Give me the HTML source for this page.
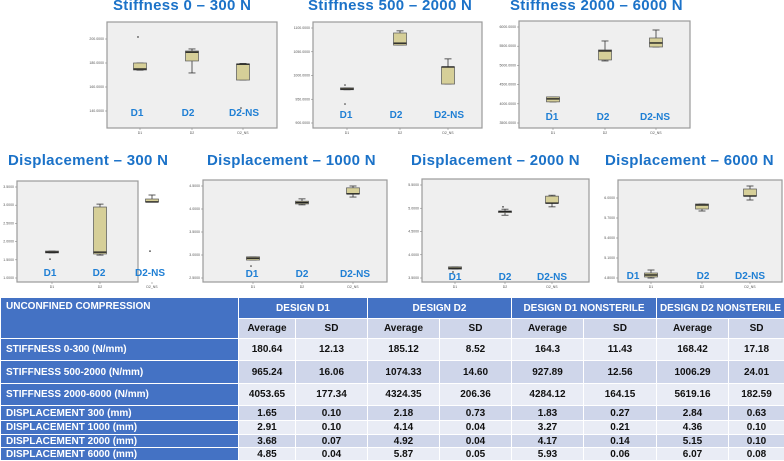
<!DOCTYPE html>
<html><head><meta charset="utf-8">
<style>
body{margin:0;width:784px;height:460px;background:#fff;position:relative;overflow:hidden;font-family:"Liberation Sans",sans-serif;}
.t{position:absolute;font-weight:bold;color:#1b72c8;font-size:15px;white-space:nowrap;letter-spacing:0.3px;}
svg{position:absolute;left:0;top:0;}
table{position:absolute;left:0;top:297px;width:784px;border-collapse:collapse;table-layout:fixed;font-size:10px;font-weight:bold;}
td{border:1px solid #fff;padding:0;text-align:center;color:#111;}
td.l{background:#4472c4;color:#fff;text-align:left;padding-left:5px;}
th{background:#4472c4;color:#fff;border:1px solid #fff;font-size:10px;}
tr.a td:not(.l){background:#e9ecf5;}
tr.b td:not(.l){background:#cfd6ea;}
</style></head><body>
<div class="t" style="left:113px;top:-3px">Stiffness 0 – 300 N</div>
<div class="t" style="left:308px;top:-3px">Stiffness 500 – 2000 N</div>
<div class="t" style="left:510px;top:-3px">Stiffness 2000 – 6000 N</div>
<div class="t" style="left:8px;top:152px">Displacement – 300 N</div>
<div class="t" style="left:207px;top:152px">Displacement – 1000 N</div>
<div class="t" style="left:411px;top:152px">Displacement – 2000 N</div>
<div class="t" style="left:605px;top:152px">Displacement – 6000 N</div>
<svg id="s" width="784" height="297"></svg>

<table>
<colgroup><col style="width:238px"><col style="width:57px"><col style="width:72px"><col style="width:72px"><col style="width:72px"><col style="width:72px"><col style="width:73px"><col style="width:72px"><col style="width:56px"></colgroup>
<tr style="height:21px"><th style="text-align:left;padding-left:5px;padding-top:3px;vertical-align:top" rowspan="2">UNCONFINED COMPRESSION</th><th colspan="2">DESIGN D1</th><th colspan="2">DESIGN D2</th><th colspan="2">DESIGN D1 NONSTERILE</th><th colspan="2">DESIGN D2 NONSTERILE</th></tr>
<tr class="b" style="height:20px"><td>Average</td><td>SD</td><td>Average</td><td>SD</td><td>Average</td><td>SD</td><td>Average</td><td>SD</td></tr>
<tr class="a" style="height:22px"><td class="l">STIFFNESS 0-300 (N/mm)</td><td>180.64</td><td>12.13</td><td>185.12</td><td>8.52</td><td>164.3</td><td>11.43</td><td>168.42</td><td>17.18</td></tr>
<tr class="b" style="height:23px"><td class="l">STIFFNESS 500-2000 (N/mm)</td><td>965.24</td><td>16.06</td><td>1074.33</td><td>14.60</td><td>927.89</td><td>12.56</td><td>1006.29</td><td>24.01</td></tr>
<tr class="a" style="height:22px"><td class="l">STIFFNESS 2000-6000 (N/mm)</td><td>4053.65</td><td>177.34</td><td>4324.35</td><td>206.36</td><td>4284.12</td><td>164.15</td><td>5619.16</td><td>182.59</td></tr>
<tr class="b" style="height:15px"><td class="l">DISPLACEMENT 300 (mm)</td><td>1.65</td><td>0.10</td><td>2.18</td><td>0.73</td><td>1.83</td><td>0.27</td><td>2.84</td><td>0.63</td></tr>
<tr class="a" style="height:14px"><td class="l">DISPLACEMENT 1000 (mm)</td><td>2.91</td><td>0.10</td><td>4.14</td><td>0.04</td><td>3.27</td><td>0.21</td><td>4.36</td><td>0.10</td></tr>
<tr class="b" style="height:13px"><td class="l">DISPLACEMENT 2000 (mm)</td><td>3.68</td><td>0.07</td><td>4.92</td><td>0.04</td><td>4.17</td><td>0.14</td><td>5.15</td><td>0.10</td></tr>
<tr class="a" style="height:13px"><td class="l">DISPLACEMENT 6000 (mm)</td><td>4.85</td><td>0.04</td><td>5.87</td><td>0.05</td><td>5.93</td><td>0.06</td><td>6.07</td><td>0.08</td></tr>
</table>

<script>
// data (one entry per panel, each with 3 groups)
const categories = ["D1","D2","D2_NS"];
const groupLabels = ["D1","D2","D2-NS"];
const tickValues = [[200,180,160,140],[1100,1050,1000,950,900],[6000,5500,5000,4500,4000,3500],[3.5,3.0,2.5,2.0,1.5,1.0],[4.5,4.0,3.5,3.0,2.5],[5.5,5.0,4.5,4.0,3.5],[6.0,5.7,5.4,5.1,4.8]];
const whiskerLow = [[174,171.7,165.8],[970,1064,982],[4050,5116,5480],[1.69,1.63,3.09],[2.89,4.09,4.26],[3.69,4.85,5.03],[4.8,5.805,5.97]];
const q1 = [[174.2,181.7,165.8],[970,1064,982],[4050,5142,5480],[1.69,1.66,3.09],[2.89,4.11,4.33],[3.69,4.92,5.11],[4.815,5.835,6.03]];
const median = [[175,189,179],[971.6,1068,1018],[4128,5376,5584],[1.71,1.71,3.09],[2.93,4.14,4.33],[3.71,4.93,5.11],[4.845,5.895,6.03]];
const q3 = [[180,190,179.2],[974,1089.5,1018],[4180,5402,5714],[1.74,2.95,3.17],[2.96,4.17,4.46],[3.74,4.94,5.26],[4.875,5.91,6.135]];
const whiskerHigh = [[180,191.7,179.6],[974,1094,1035],[4180,5636,5922],[1.74,3.03,3.28],[2.96,4.22,4.5],[3.74,4.98,5.28],[4.92,5.91,6.18]];
const outliers = [[[201.7],[],[142.5]],[[980,940],[],[]],[[3816],[],[]],[[1.52],[],[1.74]],[[2.76],[],[]],[[3.63],[5.03],[]],[[],[],[]]];

// layout (pixels)
const panels = [
 {x0:107,x1:277,y0:22,y1:128,t0:39,t1:111,cx:[140,192,243],lx:[137,188,244],ly:116},
 {x0:313,x1:482,y0:22,y1:128,t0:28,t1:123,cx:[347,400,448],lx:[346,396,449],ly:118},
 {x0:519,x1:690,y0:21,y1:128,t0:27,t1:123,cx:[553,605,656],lx:[552,603,655],ly:120},
 {x0:17,x1:138,y0:181,y1:282,t0:187,t1:278,cx:[52,100,152],lx:[50,99,150],ly:276},
 {x0:203,x1:387,y0:180,y1:282,t0:186,t1:278,cx:[253,302,353],lx:[252,302,355],ly:277},
 {x0:422,x1:589,y0:179,y1:282,t0:185,t1:278,cx:[455,505,552],lx:[455,505,552],ly:280},
 {x0:618,x1:782,y0:180,y1:282,t0:198,t1:278,cx:[651,702,750],lx:[633,703,750],ly:279}
];
const NS="http://www.w3.org/2000/svg";
const svg=document.getElementById('s');
function mk(tag,attrs,parent){const e=document.createElementNS(NS,tag);for(const k in attrs)e.setAttribute(k,attrs[k]);(parent||svg).appendChild(e);return e;}
panels.forEach((p,pi)=>{
  const ticks=tickValues[pi];
  const vTop=ticks[0], vBot=ticks[ticks.length-1];
  const y=v=>p.t0+(vTop-v)/(vTop-vBot)*(p.t1-p.t0);
  const g=mk('g',{});
  
  
  const r=mk('rect',{x:p.x0,y:p.y0,width:p.x1-p.x0,height:p.y1-p.y0,fill:'#efefef',stroke:'#9a9a9a','stroke-width':1.2},g);
  
  
  ticks.forEach(tv=>{
    const yy=y(tv);
    mk('line',{x1:p.x0-2,x2:p.x0,y1:yy,y2:yy,stroke:'#888','stroke-width':0.6},g);
    const t=mk('text',{x:p.x0-3,y:yy+1,'font-size':3.5,'text-anchor':'end',fill:'#555','font-family':'Liberation Sans'},g);
    t.textContent=tv.toFixed(4);
    
    
  });
  categories.forEach((c,ci)=>{
    const cx=p.cx[ci], w=13;
    mk('line',{x1:cx,x2:cx,y1:p.y1,y2:p.y1+2,stroke:'#888','stroke-width':0.6},g);
    const tl=mk('text',{x:cx,y:p.y1+6,'font-size':3.5,'text-anchor':'middle',fill:'#555','font-family':'Liberation Sans'},g);
    tl.textContent=c;
    
    
    const st={stroke:'#333','stroke-width':0.8};
    mk('line',Object.assign({x1:cx,x2:cx,y1:y(whiskerHigh[pi][ci]),y2:y(q3[pi][ci])},st),g);
    mk('line',Object.assign({x1:cx,x2:cx,y1:y(q1[pi][ci]),y2:y(whiskerLow[pi][ci])},st),g);
    mk('line',Object.assign({x1:cx-3.5,x2:cx+3.5,y1:y(whiskerHigh[pi][ci]),y2:y(whiskerHigh[pi][ci])},st),g);
    mk('line',Object.assign({x1:cx-3.5,x2:cx+3.5,y1:y(whiskerLow[pi][ci]),y2:y(whiskerLow[pi][ci])},st),g);
    const top=y(q3[pi][ci]), bot=y(q1[pi][ci]);
    const b=mk('rect',{x:cx-w/2,y:top,width:w,height:Math.max(bot-top,1.5),fill:'#d6cf98',stroke:'#555','stroke-width':0.7},g);
    
    
    mk('line',{x1:cx-w/2,x2:cx+w/2,y1:y(median[pi][ci]),y2:y(median[pi][ci]),stroke:'#222','stroke-width':1.4},g);
    outliers[pi][ci].forEach(o=>{
      const d=mk('circle',{cx:cx-2,cy:y(o),r:0.8,fill:'#333'},g);
      
      
    });
    const lb=mk('text',{x:p.lx[ci],y:p.ly,'font-size':10,'font-weight':'bold','text-anchor':'middle',fill:'#1f7fd4','font-family':'Liberation Sans'},g);
    lb.textContent=groupLabels[ci];
    
    
  });
});
</script>
</body></html>
